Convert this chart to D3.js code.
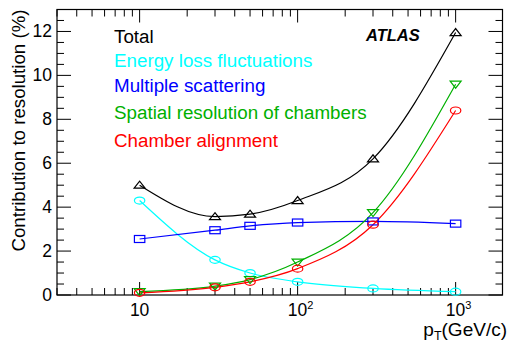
<!DOCTYPE html>
<html>
<head>
<meta charset="utf-8">
<script src="https://cdn.jsdelivr.net/npm/d3@7"></script>
<style>
  body { margin: 0; background: #fff; }
  text { font-family: "Liberation Sans", Arial, sans-serif; }
</style>
</head>
<body>
<script>
// pT points (GeV/c)
const PT = [10, 30, 50, 100, 300, 1000];
const total = [5.0, 3.57, 3.68, 4.3, 6.2, 11.95];
const energyLoss = [4.3, 1.6, 1.0, 0.6, 0.3, 0.15];
const multScatt = [2.55, 2.95, 3.15, 3.3, 3.35, 3.25];
const spatial = [0.15, 0.4, 0.7, 1.5, 3.75, 9.6];
const alignment = [0.1, 0.35, 0.6, 1.2, 3.2, 8.4];
const yTicks = [0, 2, 4, 6, 8, 10, 12];
const xTicks = [10, 100, 1000];

const series = [
    {name: "Total", values: total, color: "#000000", marker: "up"},
    {name: "Energy loss fluctuations", values: energyLoss, color: "#00ffff", marker: "circle"},
    {name: "Multiple scattering", values: multScatt, color: "#0000ff", marker: "square"},
    {name: "Spatial resolution of chambers", values: spatial, color: "#00b000", marker: "down"},
    {name: "Chamber alignment", values: alignment, color: "#ff0000", marker: "circle"}
];

var W = 508, H = 343;
var margin = {top: 9.5, right: 5.5, bottom: 48, left: 57};
var width = W - margin.left - margin.right,
    height = H - margin.top - margin.bottom;

var svg = d3.select("body").append("svg")
    .attr("width", W)
    .attr("height", H);

var g = svg.append("g")
    .attr("transform", "translate(" + margin.left + "," + margin.top + ")");

var x = d3.scaleLog().domain([3, 1980]).range([0, width]);
var y = d3.scaleLinear().domain([0, 13]).range([height, 0]);

// minor ticks on log axis
var minorX = [];
for (let dec = 1; dec <= 1000; dec *= 10) {
    for (let k = 1; k <= 9; k++) {
        let v = k * dec;
        if (v >= 3 && v <= 1980 && xTicks.indexOf(v) < 0) minorX.push(v);
    }
}
var minorY = d3.range(0, 13.01, 0.5).filter(v => yTicks.indexOf(v) < 0);

// ticks (all inward, mirrored)
var ticks = g.append("g").attr("stroke", "#000").attr("stroke-width", 1);
xTicks.forEach(v => {
    ticks.append("line").attr("x1", x(v)).attr("x2", x(v)).attr("y1", height).attr("y2", height - 13);
    ticks.append("line").attr("x1", x(v)).attr("x2", x(v)).attr("y1", 0).attr("y2", 13);
});
minorX.forEach(v => {
    ticks.append("line").attr("x1", x(v)).attr("x2", x(v)).attr("y1", height).attr("y2", height - 7);
    ticks.append("line").attr("x1", x(v)).attr("x2", x(v)).attr("y1", 0).attr("y2", 7);
});
yTicks.forEach(v => {
    ticks.append("line").attr("x1", 0).attr("x2", 14).attr("y1", y(v)).attr("y2", y(v));
    ticks.append("line").attr("x1", width).attr("x2", width - 14).attr("y1", y(v)).attr("y2", y(v));
});
minorY.forEach(v => {
    ticks.append("line").attr("x1", 0).attr("x2", 7).attr("y1", y(v)).attr("y2", y(v));
    ticks.append("line").attr("x1", width).attr("x2", width - 7).attr("y1", y(v)).attr("y2", y(v));
});

// frame
g.append("rect")
    .attr("width", width).attr("height", height)
    .attr("fill", "none").attr("stroke", "#000").attr("stroke-width", 1.2);

// y tick labels
g.selectAll(".ylab").data(yTicks).enter().append("text")
    .attr("x", -5).attr("y", d => y(d) + 6)
    .attr("text-anchor", "end")
    .attr("font-size", 17.5)
    .text(d => d);

// x tick labels
xTicks.forEach((v, i) => {
    let t = g.append("text")
        .attr("x", x(v)).attr("y", height + 21)
        .attr("text-anchor", "middle")
        .attr("font-size", 17.5);
    if (i == 0) {
        t.text("10");
    } else {
        t.attr("x", x(v) + 3);
        t.append("tspan").text("10");
        t.append("tspan").attr("dy", -7).attr("font-size", 11).text(i + 1);
    }
});

// axis titles
svg.append("text")
    .attr("transform", "translate(24.5," + margin.top + ") rotate(-90)")
    .attr("text-anchor", "end")
    .attr("font-size", 18.7)
    .text("Contribution to resolution (%)");

var xt = svg.append("text")
    .attr("x", W - 1).attr("y", 335.5)
    .attr("text-anchor", "end")
    .attr("font-size", 19);
xt.append("tspan").text("p");
xt.append("tspan").attr("dy", 4).attr("font-size", 12.5).text("T");
xt.append("tspan").attr("dy", -4).text("(GeV/c)");

// curves
var line = d3.line()
    .x((d, i) => x(PT[i]))
    .y(d => y(d))
    .curve(d3.curveMonotoneX);

var plot = g.append("g");
series.forEach(s => {
    plot.append("path")
        .datum(s.values)
        .attr("d", line)
        .attr("fill", "none")
        .attr("stroke", s.color)
        .attr("stroke-width", 1.2);
});

// markers
series.forEach(s => {
    s.values.forEach((v, i) => {
        let cx = x(PT[i]), cy = y(v);
        let m;
        if (s.marker == "circle") {
            m = plot.append("ellipse").attr("cx", cx).attr("cy", cy).attr("rx", 5.2).attr("ry", 3.5);
        } else if (s.marker == "square") {
            m = plot.append("rect").attr("x", cx - 5.2).attr("y", cy - 3.5).attr("width", 10.4).attr("height", 7);
        } else if (s.marker == "up") {
            m = plot.append("path").attr("d", `M${cx - 5.5},${cy + 3}L${cx + 5.5},${cy + 3}L${cx},${cy - 4}Z`);
        } else {
            m = plot.append("path").attr("d", `M${cx - 5.5},${cy - 3}L${cx + 5.5},${cy - 3}L${cx},${cy + 4}Z`);
        }
        m.attr("fill", "none").attr("stroke", s.color).attr("stroke-width", 1.2);
    });
});

// legend
var legY = [43, 67, 92, 119, 147];
series.forEach((s, i) => {
    svg.append("text")
        .attr("x", 114).attr("y", legY[i])
        .attr("font-size", 18.8)
        .attr("fill", s.color)
        .text(s.name);
});

svg.append("text")
    .attr("x", 366).attr("y", 41)
    .attr("font-size", 16.5)
    .attr("font-weight", "bold")
    .attr("font-style", "italic")
    .text("ATLAS");
</script>
</body>
</html>
